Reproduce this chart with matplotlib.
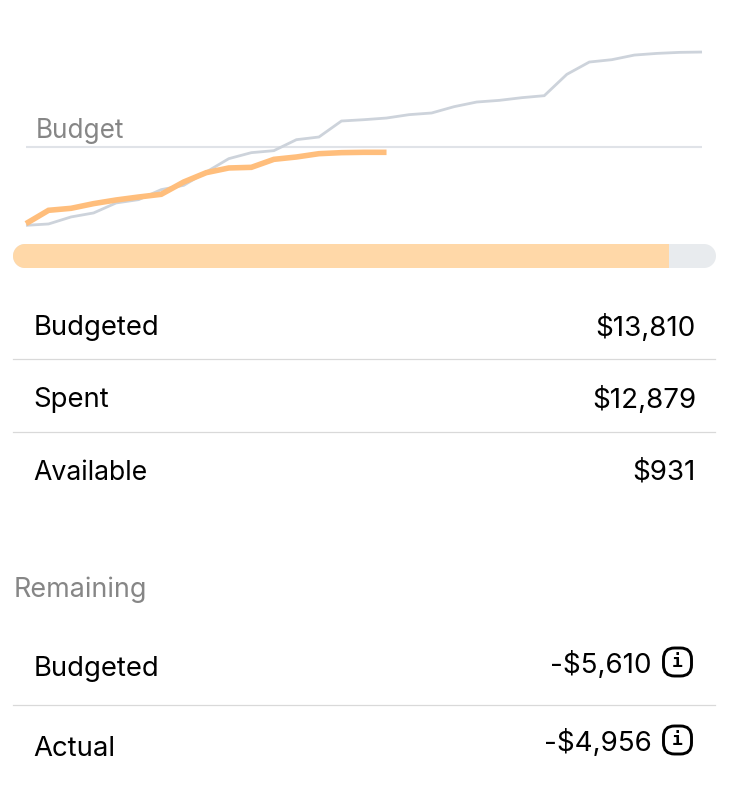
import matplotlib
matplotlib.use('Agg')
import matplotlib.pyplot as plt
import numpy as np
from matplotlib.patches import FancyBboxPatch, Polygon

W, H = 734, 798
plt.rcParams['font.family'] = ['Inter', 'DejaVu Sans']

days = list(range(1, 32))
budget_line = [100, 340, 1570, 2270, 4020, 4600, 6350, 7100, 9440, 11770, 12820,
               13170, 15090, 15560, 18360, 18590, 18880, 19470, 19760, 20870, 21680,
               21970, 22440, 22790, 26520, 28680, 29090, 29900, 30190, 30370, 30430]
spent_line = [400, 2730, 3080, 3900, 4540, 5060, 5530, 7690, 9320, 10140, 10250,
              11650, 12060, 12640, 12820, 12880, 12879]
budgeted = 13810
spent = 12879

top_labels = ['Budgeted', 'Spent', 'Available']
top_values = ['$13,810', '$12,879', '$931']
remaining_labels = ['Budgeted', 'Actual']
remaining_values = ['-$5,610', '-$4,956']

ORANGE = '#ffbe7c'
BAR_ORANGE = '#ffd8a8'
GREY_LINE = '#cdd3db'
RULE = '#e0e3e8'
BAR_BG = '#e8ebee'
SEP = '#d9d9d9'
MUTED = '#868686'


def px_axes(fig, x0, y0, x1, y1):
    # axes from pixel box, y measured from the top
    return fig.add_axes([x0 / W, 1 - y1 / H, (x1 - x0) / W, (y1 - y0) / H])


fig = plt.figure(figsize=(W / 100, H / 100), dpi=100)

# page layer in pixels, for the rows
page = fig.add_axes([0, 0, 1, 1])
page.set_xlim(0, W)
page.set_ylim(H, 0)
page.axis('off')

# line chart, 175 dollars per pixel with the budget at y=147
chart = px_axes(fig, 26, 30, 702, 240)
chart.set_xlim(1, 31)
chart.set_ylim(budgeted - 93 * 175, budgeted + 117 * 175)
chart.axis('off')
chart.patch.set_alpha(0)
chart.axhline(budgeted, color=RULE, lw=1.5, zorder=1)
chart.plot(days, budget_line, color=GREY_LINE, lw=2.0, zorder=2, clip_on=False,
           solid_capstyle='butt', solid_joinstyle='miter')
chart.plot(days[:len(spent_line)], spent_line, color=ORANGE, lw=4.0, zorder=3, clip_on=False,
           solid_capstyle='butt', solid_joinstyle='miter')
page.text(35.5, 130.5, 'Budget', fontsize=18.8, color=MUTED, va='center', ha='left')

# progress bar, pill shaped clip
bar = px_axes(fig, 13, 244, 716, 268)
bar.set_xlim(0, budgeted)
bar.set_ylim(0, 1)
bar.axis('off')
t = np.linspace(-np.pi / 2, np.pi / 2, 40)
pill = np.vstack([np.column_stack([704 + 12 * np.cos(t), 256 + 12 * np.sin(t)]),
                  np.column_stack([25 - 12 * np.cos(t[::-1]), 256 + 12 * np.sin(t[::-1])])])
outline = Polygon(pill, closed=True, transform=page.transData, fc='none', ec='none')
page.add_patch(outline)
for b in bar.barh(0.5, budgeted, height=1, color=BAR_BG, linewidth=0):
    b.set_clip_path(outline)
for b in bar.barh(0.5, spent, height=1, color=BAR_ORANGE, linewidth=0):
    b.set_clip_path(outline)


def info_icon(x, y):
    page.add_patch(FancyBboxPatch((x - 5, y - 5), 10, 10, boxstyle='round,pad=9,rounding_size=11',
                                  fc='white', ec='black', lw=2.1))
    page.text(x, y, 'i', fontsize=13, fontweight='bold', family='DejaVu Sans Mono',
              ha='center', va='center', color='black')


# top table
top_y = [328, 400, 473]
top_sizes = [19.8, 19.8, 19.2]
for lab, val, y, fs in zip(top_labels, top_values, top_y, top_sizes):
    page.text(33.5, y, lab, fontsize=fs, va='center', ha='left', color='black')
    page.text(696, y, val, fontsize=20, va='center', ha='right', color='black')
for y in [359, 432]:
    page.plot([13, 715], [y, y], color=SEP, lw=0.9)

page.text(13.5, 589.5, 'Remaining', fontsize=19.4, va='center', ha='left', color=MUTED)

# remaining table
rem_y = [669.5, 748.5]
rem_val_y = [665.5, 743.5]
rem_icon_y = [662, 740]
for lab, val, y, vy, iy in zip(remaining_labels, remaining_values, rem_y, rem_val_y, rem_icon_y):
    page.text(33.5, y, lab, fontsize=19.8, va='center', ha='left', color='black')
    page.text(652, vy, val, fontsize=20, va='center', ha='right', color='black')
    info_icon(677.5, iy)
page.plot([13, 715], [705, 705], color=SEP, lw=0.9)

fig.savefig('out.png', dpi=100, facecolor='white')
